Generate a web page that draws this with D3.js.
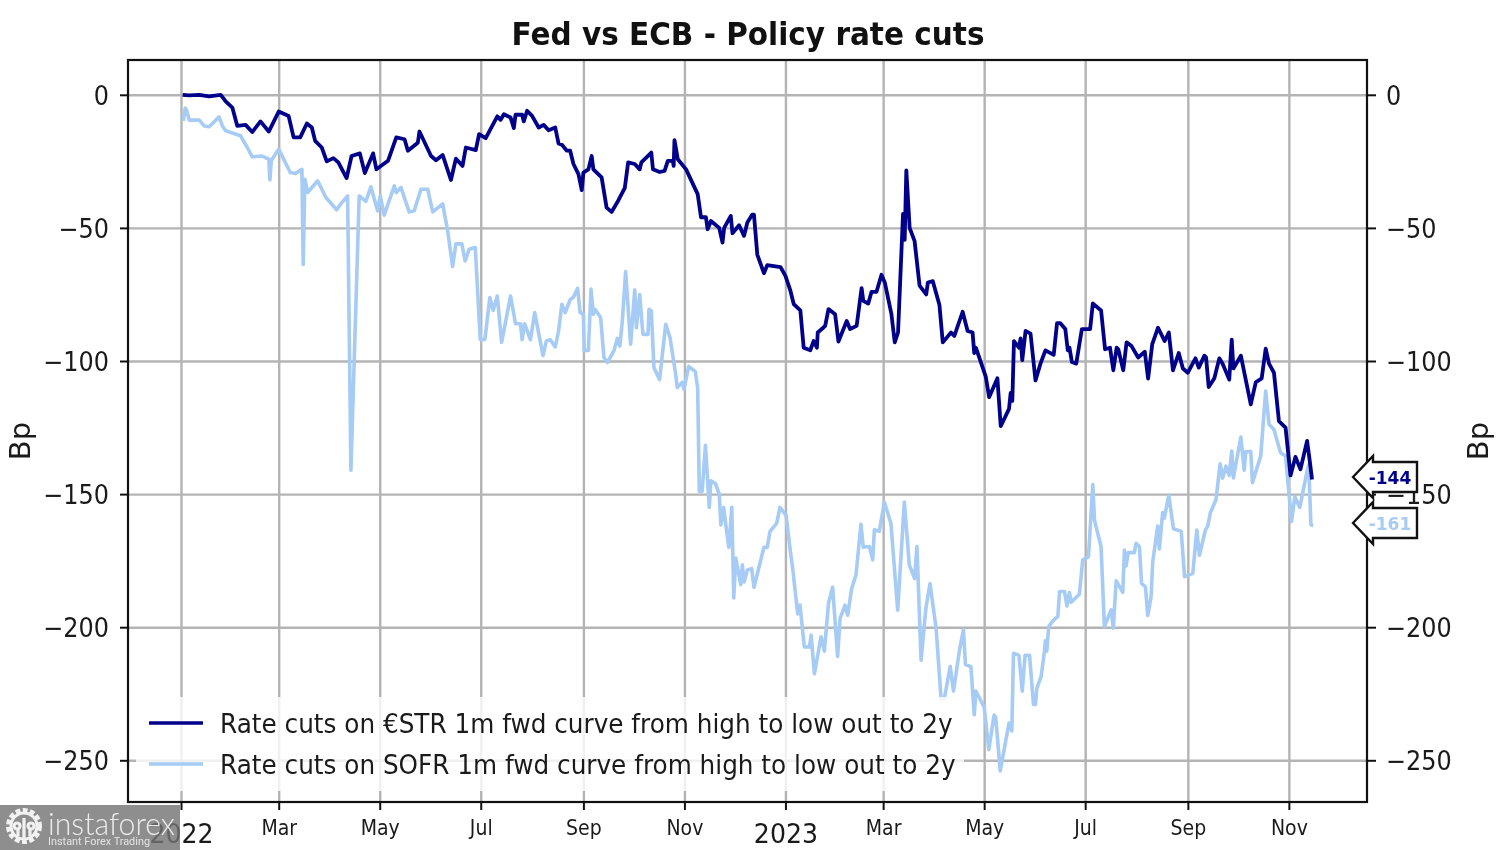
<!DOCTYPE html>
<html><head><meta charset="utf-8">
<script src="https://cdnjs.cloudflare.com/ajax/libs/d3/7.8.5/d3.min.js"></script>
<style>
html,body{margin:0;padding:0;background:#fff;overflow:hidden}
svg{display:block;filter:blur(0.45px)}
text{font-family:"DejaVu Sans",sans-serif;fill:#1a1a1a}
</style></head><body><svg id="c" width="1500" height="850"></svg>
<script>
const chartTitle="Fed vs ECB - Policy rate cuts";
const yAxisTitle="Bp";
const legendLabels=["Rate cuts on €STR 1m fwd curve from high to low out to 2y","Rate cuts on SOFR 1m fwd curve from high to low out to 2y"];
const yTicks=[0,-50,-100,-150,-200,-250];
const xTickDays=[0,59,120,181,243,304,365,424,485,546,608,669];
const xTickLabels=["2022","Mar","May","Jul","Sep","Nov","2023","Mar","May","Jul","Sep","Nov"];
const lastValues=[-144,-161];
// [days since 2022-01-01, basis points]
const estrSeries=[[1,0],[5,-.2],[11,0],[17,-.6],[24,0],[27,-2.5],[31,-4.8],[34,-11.7],[39,-11.3],[43,-14],[48,-10],[53,-13.8],[59,-6.3],[65,-8],[68,-16],[72,-16],[76,-10.8],[79,-12.3],[81,-17.3],[85,-19.8],[88,-25],[92,-23.8],[95,-25.4],[100,-31.3],[103,-23],[108,-22],[111,-29.4],[116,-22],[118,-28],[125,-24.8],[130,-16],[135,-16.7],[137,-21],[143,-18],[144,-13.8],[151,-23],[154,-24.6],[158,-22.6],[163,-32],[166,-24],[170,-26.7],[172,-19.8],[178,-20.8],[180,-14.8],[184,-16.3],[191,-8.1],[193,-9.4],[195,-7.3],[199,-8.5],[201,-12.5],[202,-7.5],[206,-7.5],[207,-10],[209,-6],[212,-7.9],[216,-12.3],[219,-11.3],[222,-13.3],[226,-12.3],[228,-18.3],[230,-18.8],[233,-21],[235,-21],[237,-26],[240,-29.8],[242,-35.8],[243,-29.2],[246,-28],[248,-23],[249,-28],[254,-31],[257,-42.4],[260,-44],[264,-39.8],[268,-35],[270,-25.4],[274,-26],[277,-28],[278,-25.4],[284,-21.7],[285,-28],[289,-29],[292,-28.6],[294,-24.8],[297,-24.8],[297.5,-26.7],[298,-17],[300,-24.2],[305,-28],[312,-37.3],[314,-46],[317,-46],[318,-50.5],[320,-47.4],[325,-50],[327,-55.5],[328,-50],[332,-45.5],[333,-52],[337,-49],[340,-53],[342,-48],[345,-45],[346,-45],[348,-60],[352,-67],[354,-64],[362,-64.7],[365,-68],[368,-73.6],[370,-78.6],[374,-81],[376,-95],[380,-96],[382,-92.5],[384,-95],[384.5,-89.3],[388,-87.4],[389,-86.8],[391,-80.5],[395,-82.4],[397,-92.7],[402,-85],[404,-88],[408,-86.8],[411,-72.6],[412,-77.4],[415,-78.4],[417,-74],[420,-74],[423,-67.6],[425,-70.5],[429,-82.4],[431,-93],[433,-89.3],[436,-44.7],[437,-54.5],[438,-28.4],[440,-50],[443,-55],[446,-71.7],[450,-75],[451,-70.5],[454,-70],[458,-79],[460,-93],[465,-89.3],[467,-90.6],[472,-81.5],[475,-88.7],[478,-89.3],[479,-97],[480,-95],[486,-106],[488,-113.6],[493,-106.5],[495,-124.5],[500,-118],[501,-112],[502,-115],[503,-92.5],[506,-95],[507,-91.5],[508,-99.7],[510,-88.7],[513,-89.7],[516,-107.3],[519,-101],[522,-96],[527,-97.7],[529,-85.8],[531,-85.8],[534,-88],[535.5,-96],[536.5,-95],[538,-100.4],[540.6,-101],[544,-88],[549,-88],[550.6,-78.4],[555.6,-81],[558,-95.6],[561,-95],[563,-103.5],[565,-95],[566,-95.6],[569,-103.5],[571,-93],[574,-94.4],[578,-98.7],[582,-96.5],[584,-106.6],[586.5,-93.7],[590,-87.5],[594,-92.5],[596.5,-89.3],[599,-103.5],[602.5,-97],[605,-102.8],[608,-104.4],[612.6,-99],[614.6,-102.5],[618,-98],[619,-98.6],[620.6,-109.8],[624,-106.5],[627,-99],[629,-101],[633,-107],[634.5,-92],[635.5,-102.8],[640,-98],[646,-116.3],[649,-108],[652.6,-106.5],[655,-95.4],[657,-101],[660,-104.4],[663,-122.6],[667,-125],[670,-143],[673,-136],[676,-140.7],[680,-130],[681.5,-137],[683,-144.5]];
const sofrSeries=[[1.4,-9.8],[2.6,-5],[3.5,-6],[5,-9.5],[11,-9.5],[14,-11.7],[17,-12],[23,-8.3],[25,-11.7],[27,-13.5],[36,-15.4],[40,-19.8],[43,-23.3],[49,-23],[53,-24.2],[53.7,-32],[54.5,-24.8],[59,-20.4],[66,-29.2],[69,-29.6],[73,-28],[73.8,-63.7],[74.8,-31.7],[76.5,-36.7],[82.5,-32.3],[87.5,-38.6],[94,-43.2],[96.6,-40.9],[100.6,-38],[102.6,-141],[107.6,-38],[111.6,-40],[114.7,-34.6],[118.7,-43.6],[120.3,-38],[122.7,-45.2],[128.8,-34.2],[130,-36.7],[132.8,-34.8],[137.8,-44],[140.8,-43.6],[144.9,-35.5],[149,-35.5],[152,-44],[158,-41],[161,-51],[164,-64.5],[166,-56],[169.6,-56],[171.6,-62.4],[174,-58],[177.7,-57.4],[180.7,-91.9],[183.5,-91.9],[186.5,-76.2],[188.5,-81],[191,-75.6],[193.6,-93],[199,-75.6],[202,-86],[205,-86],[206,-92],[207.5,-86],[211,-92],[213.6,-81.8],[218.6,-98],[220.6,-92.5],[223,-92],[226,-94.7],[228,-88.7],[230,-78.7],[232,-81.8],[235,-77],[237,-76],[239.5,-72.7],[241,-81.8],[243,-82.5],[243.5,-96],[246,-96],[247.6,-73],[249,-82.5],[250,-80.6],[253.4,-83.7],[255.4,-98.7],[257.5,-100.6],[261.5,-96],[263.5,-91.5],[265,-94.4],[266.5,-85],[268.5,-66.4],[271.5,-93.7],[274,-73.3],[275,-87.5],[277,-75],[278.6,-87.5],[279,-90],[282,-90],[282.6,-80.6],[284,-81.2],[285.6,-102.5],[289,-107],[292.7,-86.2],[295.3,-91.2],[298.7,-105],[299.7,-110],[302.7,-108],[303.7,-110.6],[306.6,-102],[310.6,-104],[312,-110],[313,-149],[314.7,-149],[316.7,-131.7],[319,-155],[320,-145],[322.7,-146],[325,-150],[326,-161.6],[327.7,-155],[329,-161.6],[330.8,-170],[332.6,-155],[333.8,-189],[335,-174],[338,-184],[339,-176.6],[340,-183],[342,-178.5],[344.6,-178],[346,-185],[348,-180],[352,-170],[354,-170],[355.7,-164],[359.7,-161],[361.7,-155],[365.4,-158],[368,-171.6],[369.4,-178],[372.4,-195],[373.8,-191.7],[376.4,-207.4],[379.5,-207.4],[380.5,-203],[382.5,-217.5],[386.5,-203.6],[388.5,-209],[391,-191],[393.5,-185],[396.5,-211],[398,-196.7],[401,-191.7],[402.6,-195.5],[405,-185.4],[407.6,-180.4],[410.6,-161.3],[412,-170],[415.7,-169.7],[417.7,-174.7],[418.7,-163.4],[421.7,-164],[424.7,-153],[428.7,-161],[432.8,-193.6],[436.8,-153],[439.8,-176.6],[443,-181.7],[444.4,-169.7],[446.9,-212.4],[449.8,-193],[452.3,-183.6],[456,-200.5],[459,-227],[461,-226.6],[464.5,-214.8],[466.5,-224],[470,-209],[472.5,-201],[473.7,-214],[477,-214.8],[479,-232.9],[480,-224],[485,-230],[487.8,-246],[491,-233],[492,-234],[494.7,-254],[500,-236],[501.7,-239],[502.7,-209.8],[506,-210.6],[508,-224],[509.7,-210.6],[512.4,-210.6],[514.8,-229],[516,-229],[516.8,-223],[519.4,-218.5],[521.4,-209],[522,-205],[522.8,-209],[524,-199.7],[527.5,-197],[529.5,-196],[530.5,-186.6],[533.5,-186.6],[535,-192],[536.5,-187],[537.5,-190.6],[542.5,-187.6],[544.5,-174.8],[548,-173.5],[550.6,-146.4],[551.6,-159.8],[555.6,-169.8],[557.6,-199.8],[561.7,-193.5],[563,-200.4],[564.7,-182.6],[568.7,-186.9],[569.7,-171],[570.7,-177],[572,-172],[575.7,-172],[576.7,-168.5],[578.8,-169.8],[580,-183.5],[582.4,-184.8],[583.8,-195.6],[585.8,-188.5],[586.8,-175.4],[589.8,-162],[590.8,-170.6],[592.8,-156.9],[593.8,-159],[596.5,-150.4],[599.3,-163],[604,-164],[606,-181],[611,-179.8],[613.4,-163.5],[615,-173],[618.6,-163.5],[620,-162],[621.6,-157],[625,-152],[627.5,-138.6],[629,-144],[631,-139.5],[633,-143],[634.5,-133.8],[635.5,-143.9],[640,-128.6],[642,-141],[643,-134],[646,-134],[647,-145.7],[652,-135.7],[655,-111.3],[657,-123.8],[660,-125.7],[664,-134.5],[667,-135.7],[670.6,-160.3],[672.6,-151],[675.6,-155],[680,-141.5],[681,-139],[682.3,-161.5],[683.7,-161.8]];

const seriesColors=["#00008b","#a6cbf5"];
const dayMs=864e5, t0=Date.UTC(2022,0,1);
const toDate=d=>new Date(t0+d*dayMs);
const svg=d3.select("#c");
const L=128,R=1367,T=60,B=802;
const pxPerDay=1.656;
const x=d3.scaleUtc().domain([toDate((L-181)/pxPerDay),toDate((R-181)/pxPerDay)]).range([L,R]);
const y=d3.scaleLinear().domain([0,-250]).range([94.8,760.3]);
const xTicks=xTickDays.map(toDate);

// The source image is slightly squeezed horizontally: narrow each text to match
const squeeze=(sel,f)=>sel.each(function(){
  const w=this.getComputedTextLength();
  d3.select(this).attr("textLength",w*f).attr("lengthAdjust","spacingAndGlyphs");
});

const gridStyle=s=>{s.select(".domain").remove();s.selectAll("line").attr("stroke","#b4b4b4").attr("stroke-width",2.4);s.selectAll("text").remove();};
svg.append("g").attr("transform",`translate(0,${B})`).call(d3.axisBottom(x).tickValues(xTicks).tickSize(-(B-T))).call(gridStyle);
svg.append("g").attr("transform",`translate(${L},0)`).call(d3.axisLeft(y).tickValues(yTicks).tickSize(-(R-L))).call(gridStyle);

const line=d3.line().x(d=>x(toDate(d[0]))).y(d=>y(d[1])).curve(d3.curveLinear);
[[sofrSeries,1],[estrSeries,0]].forEach(([s,i])=>{
  svg.append("path").attr("d",line(s)).attr("fill","none").attr("stroke",seriesColors[i]).attr("stroke-width",i==0?3.8:3.6).attr("stroke-linejoin","round");
});

const axStyle=(s,size)=>{s.select(".domain").remove();s.selectAll("line").attr("stroke","#111").attr("stroke-width",2);s.selectAll("text").style("font-size",size+"px").attr("fill","#1a1a1a");};
svg.append("g").attr("transform",`translate(${L},0)`).call(d3.axisLeft(y).tickValues(yTicks).tickSize(8).tickPadding(11)).call(s=>axStyle(s,26)).call(s=>s.selectAll("text").attr("dy","0.37em").call(squeeze,0.92));
svg.append("g").attr("transform",`translate(${R},0)`).call(d3.axisRight(y).tickValues(yTicks).tickSize(9).tickPadding(10)).call(s=>axStyle(s,26)).call(s=>s.selectAll("text").attr("dy","0.37em").call(squeeze,0.92));
const xAxis=svg.append("g").attr("transform",`translate(0,${B})`).call(d3.axisBottom(x).tickValues(xTicks).tickSize(8).tickPadding(10).tickFormat((d,i)=>xTickLabels[i])).call(s=>axStyle(s,21));
xAxis.selectAll("text").filter((d,i)=>xTickLabels[i].length==4).style("font-size","26px").attr("dy","0.9em").call(squeeze,0.97);
xAxis.selectAll("text").filter((d,i)=>xTickLabels[i].length!=4).call(squeeze,0.9);
svg.append("rect").attr("x",L).attr("y",T).attr("width",R-L).attr("height",B-T).attr("fill","none").attr("stroke","#111").attr("stroke-width",2.2);

svg.append("text").attr("x",748).attr("y",45).attr("text-anchor","middle").style("font-size","32px").style("font-weight","700").style("fill","#111").text(chartTitle).attr("textLength",473).attr("lengthAdjust","spacingAndGlyphs");
svg.append("text").attr("transform","translate(30,441) rotate(-90)").attr("text-anchor","middle").style("font-size","29px").text(yAxisTitle);
svg.append("text").attr("transform","translate(1488,441) rotate(-90)").attr("text-anchor","middle").style("font-size","29px").text(yAxisTitle);

svg.append("rect").attr("x",136).attr("y",697).attr("width",828).attr("height",94).attr("fill","#fff").attr("fill-opacity",0.8);
legendLabels.forEach((t,i)=>{
  const ly=723+i*41;
  svg.append("line").attr("x1",149).attr("x2",203).attr("y1",ly).attr("y2",ly).attr("stroke",seriesColors[i]).attr("stroke-width",3.4);
  svg.append("text").attr("x",220).attr("y",ly+9.5).style("font-size","26px").text(t).call(squeeze,0.951);
});

const arrow=d3.line();
lastValues.forEach((v,i)=>{
  const cy=[477,523][i];
  const pts=[[1353,cy],[1373,cy-21],[1373,cy-15],[1417,cy-15],[1417,cy+15],[1373,cy+15],[1373,cy+21]];
  svg.append("path").attr("d",arrow(pts)+"Z").attr("fill","#fff").attr("stroke","#111").attr("stroke-width",2.4);
  svg.append("text").attr("x",1390).attr("y",cy+7).attr("text-anchor","middle").style("font-size","18.5px").style("font-weight","700").style("fill",seriesColors[i]).text(String(v)).call(squeeze,0.92);
});

const wm=svg.append("g");
wm.append("rect").attr("x",0).attr("y",805).attr("width",180).attr("height",45).attr("fill","#757575").attr("fill-opacity",0.82);
wm.append("circle").attr("cx",24).attr("cy",826).attr("r",15).attr("fill","none").attr("stroke","#f2f2f2").attr("stroke-width",6).attr("stroke-dasharray","4.6 2.3");
wm.append("circle").attr("cx",24).attr("cy",826).attr("r",13).attr("fill","none").attr("stroke","#f2f2f2").attr("stroke-width",3);
wm.append("path").attr("d","M24 818V838M17 823a3 3 0 1 0 .1 0M31 823a3 3 0 1 0 .1 0M18 828V836M30 828V836").attr("stroke","#f2f2f2").attr("stroke-width",3.2).attr("fill","none");
wm.append("text").attr("x",48).attr("y",835).attr("textLength",127).attr("lengthAdjust","spacingAndGlyphs").style("font-family","Lato").style("font-weight","300").style("font-size","32px").style("fill","#ececec").text("instaforex");
wm.append("text").attr("x",48).attr("y",845).attr("textLength",102).attr("lengthAdjust","spacingAndGlyphs").style("font-family","Roboto").style("font-size","11.5px").style("fill","#e4e4e4").text("Instant Forex Trading");
</script></body></html>
